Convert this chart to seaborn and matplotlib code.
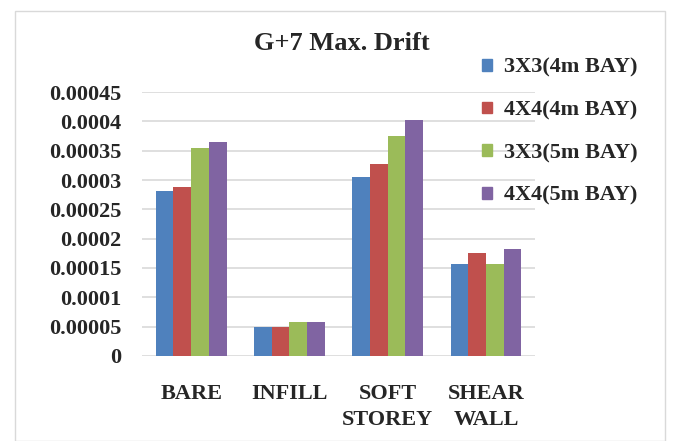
import pandas as pd
import numpy as np
import matplotlib
matplotlib.use("Agg")
import matplotlib.pyplot as plt
import seaborn as sns
from matplotlib.patches import Rectangle

categories = ["BARE", "INFILL", "SOFT\nSTOREY", "SHEAR\nWALL"]
series = ["3X3(4m BAY)", "4X4(4m BAY)", "3X3(5m BAY)", "4X4(5m BAY)"]
drift_3x3_4m = [0.000282, 0.0000500, 0.000305, 0.000156]
drift_4x4_4m = [0.000289, 0.0000500, 0.000328, 0.000175]
drift_3x3_5m = [0.000355, 0.0000570, 0.000375, 0.000156]
drift_4x4_5m = [0.000365, 0.0000570, 0.000402, 0.000183]
colors = ["#4F81BD", "#C0504D", "#9BBB59", "#8064A2"]

rows = []
for name, vals in zip(series, [drift_3x3_4m, drift_4x4_4m, drift_3x3_5m, drift_4x4_5m]):
    for cat, v in zip(categories, vals):
        rows.append({"category": cat, "series": name, "drift": v})
df = pd.DataFrame(rows)

sns.set_style("white")
plt.rcParams['font.family'] = ['Liberation Serif', 'DejaVu Serif']
plt.rcParams['font.weight'] = 'bold'

fig = plt.figure(figsize=(6.73, 4.41), dpi=100)
ax = fig.add_axes([0.211, 0.193, 0.584, 0.598])

sns.barplot(data=df, x="category", y="drift", hue="series", order=categories,
            hue_order=series, palette=colors, width=0.72, saturation=1,
            linewidth=0, ax=ax, legend=False)

ax.set_ylim(0, 0.00045)
ax.set_xlim(-0.5, 3.5)
ticks = np.arange(0, 0.00045 + 1e-9, 0.00005)
ax.set_yticks(ticks)
ax.set_yticklabels(["0", "0.00005", "0.0001", "0.00015", "0.0002", "0.00025",
                    "0.0003", "0.00035", "0.0004", "0.00045"],
                   fontsize=16, fontweight='bold')
ax.set_xticks(range(len(categories)))
ax.set_xticklabels(categories, fontsize=16, fontweight='bold', linespacing=1.45)
ax.tick_params(axis='x', length=0, pad=20)
ax.tick_params(axis='y', length=0, pad=15)
ax.yaxis.grid(True, color="#D9D9D9", linewidth=1.2)
ax.set_axisbelow(True)
for s in ax.spines.values():
    s.set_visible(False)
ax.set_xlabel("")
ax.set_ylabel("")
ax.patch.set_alpha(0)

fig.text(0.508, 0.902, "G+7 Max. Drift", ha="center", va="center",
         fontsize=19, fontweight="bold")

handles = [Rectangle((0, 0), 1, 1, color=c) for c in colors]
fig.legend(handles, series, loc="upper left", bbox_to_anchor=(0.716, 0.869),
           frameon=False, prop={'size': 16, 'weight': 'bold'},
           borderpad=0, borderaxespad=0,
           handlelength=0.45, handleheight=0.45, handletextpad=0.55,
           labelspacing=1.02)

fig.patches.append(Rectangle((0.022, 0.0), 0.966, 0.975, transform=fig.transFigure,
                             fill=False, edgecolor="#D9D9D9", linewidth=1))

fig.savefig("out.png", dpi=100)
